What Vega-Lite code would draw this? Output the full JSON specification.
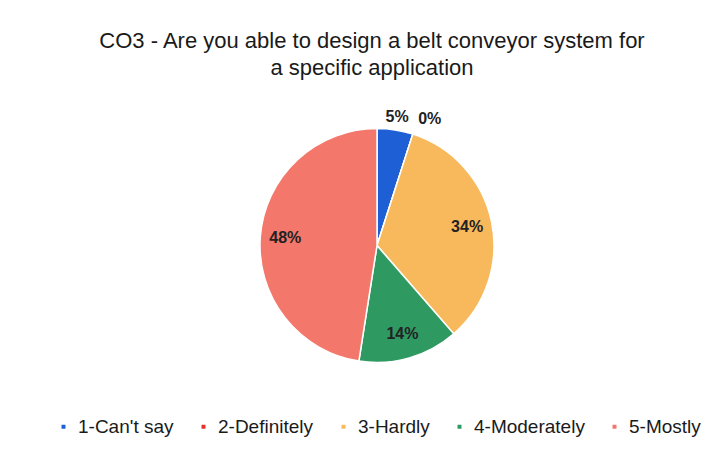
{
  "$schema": "https://vega.github.io/schema/vega-lite/v6.json",
  "autosize": {"type": "fit", "contains": "padding"},
  "width": 728,
  "height": 449,
  "padding": {"left": 26, "right": 0, "top": 30, "bottom": 12},
  "background": "white",
  "title": {
    "text": ["CO3 - Are you able to design a belt conveyor system for", "a specific application"],
    "anchor": "middle",
    "font": "Liberation Sans",
    "fontSize": 22,
    "fontWeight": "normal",
    "color": "#1a1a1a",
    "lineHeight": 27,
    "offset": 10,
    "dx": -5
  },
  "data": {
    "values": [
      {"cat": "1-Can't say", "pct": 5, "label": "5%"},
      {"cat": "2-Definitely", "pct": 0, "label": "0%"},
      {"cat": "3-Hardly", "pct": 34, "label": "34%"},
      {"cat": "4-Moderately", "pct": 14, "label": "14%"},
      {"cat": "5-Mostly", "pct": 48, "label": "48%"}
    ]
  },
  "encoding": {
    "theta": {"field": "pct", "type": "quantitative", "stack": true},
    "order": {"field": "cat", "type": "ordinal"}
  },
  "layer": [
    {
      "mark": {"type": "arc", "outerRadius": 117, "stroke": "white", "strokeWidth": 1.5},
      "encoding": {
        "color": {
          "field": "cat",
          "type": "nominal",
          "scale": {
            "domain": ["1-Can't say", "2-Definitely", "3-Hardly", "4-Moderately", "5-Mostly"],
            "range": ["#1f5fd6", "#e8312b", "#f8b95c", "#2e9a62", "#f4776b"]
          },
          "legend": {
            "orient": "bottom",
            "direction": "horizontal",
            "title": null,
            "symbolType": "square",
            "symbolSize": 30,
            "symbolOffset": 0,
            "labelOffset": 5,
            "labelFont": "Liberation Sans",
            "labelFontSize": 19,
            "labelColor": "#1a1a1a",
            "columnPadding": 20,
            "labelLimit": 200,
            "offset": 16
          }
        }
      }
    },
    {
      "mark": {"type": "text", "radius": 130, "font": "Liberation Sans", "fontSize": 16, "fontWeight": "bold", "color": "#222222"},
      "encoding": {
        "text": {"condition": {"test": "datum.pct > 0 && datum.pct < 10", "field": "label"}, "value": ""}
      }
    },
    {
      "mark": {"type": "text", "radius": 133, "dx": 12, "font": "Liberation Sans", "fontSize": 16, "fontWeight": "bold", "color": "#222222"},
      "encoding": {
        "text": {"condition": {"test": "datum.pct == 0", "field": "label"}, "value": ""}
      }
    },
    {
      "mark": {"type": "text", "radius": 92, "font": "Liberation Sans", "fontSize": 16, "fontWeight": "bold", "color": "#222222"},
      "encoding": {
        "text": {"condition": {"test": "datum.pct >= 10", "field": "label"}, "value": ""}
      }
    }
  ],
  "config": {
    "view": {"stroke": null},
    "legend": {"layout": {"bottom": {"anchor": "middle"}}}
  }
}
